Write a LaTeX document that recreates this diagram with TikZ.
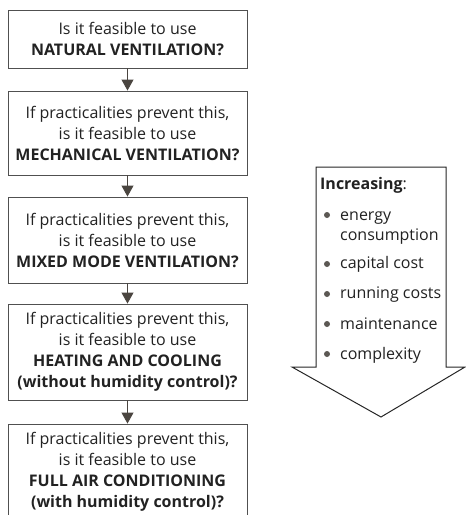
\documentclass[tikz,border=0pt]{standalone}
\usepackage{fontspec}
\setmainfont{Open Sans}
\usetikzlibrary{arrows.meta}
\definecolor{boxline}{HTML}{505050}
\definecolor{arrowc}{HTML}{4A4540}
\definecolor{txt}{HTML}{222222}
\tikzset{
  qbox/.style={draw=boxline, line width=0.9pt, fill=white, minimum width=239pt, align=center, text=txt, font=\fontsize{16}{21}\selectfont, inner sep=0pt},
  flow/.style={draw=arrowc, line width=1pt, -{Triangle[width=12pt,length=11pt]}, fill=arrowc},
  bul/.style={circle, fill=arrowc!90, inner sep=0pt, minimum size=6pt},
  itm/.style={anchor=base west, text=txt, font=\fontsize{16}{20}\selectfont, inner sep=0pt}
}
\begin{document}
\begin{tikzpicture}[x=1pt,y=1pt]
\useasboundingbox (0,0) rectangle (466,-515);
\begin{scope}
\clip (0,0) rectangle (466,-515);
\node[qbox, minimum height=58pt] (b1) at (127.5,-39) {Is it feasible to use\\\textbf{NATURAL VENTILATION?}};
\node[qbox, minimum height=84pt] (b2) at (127.5,-133) {If practicalities prevent this,\\is it feasible to use\\\textbf{MECHANICAL VENTILATION?}};
\node[qbox, minimum height=86pt] (b3) at (127.5,-240) {If practicalities prevent this,\\is it feasible to use\\\textbf{MIXED MODE VENTILATION?}};
\node[qbox, minimum height=96pt] (b4) at (127.5,-352) {If practicalities prevent this,\\is it feasible to use\\\textbf{HEATING AND COOLING}\\\textbf{(without humidity control)?}};
\node[qbox, minimum height=96pt] (b5) at (127.5,-472) {If practicalities prevent this,\\is it feasible to use\\\textbf{FULL AIR CONDITIONING}\\\textbf{(with humidity control)?}};
\end{scope}
\draw[flow] (b1.south) -- (b2.north);
\draw[flow] (b2.south) -- (b3.north);
\draw[flow] (b3.south) -- (b4.north);
\draw[flow] (b4.south) -- (b5.north);
% big arrow
\draw[line width=1pt, draw=black!85, line join=miter, fill=white] (316,-167) -- (446,-167) -- (446,-367) -- (465,-367) -- (381,-417) -- (292,-367) -- (316,-367) -- cycle;
\node[itm] (inc) at (320,-189) {\textbf{Increasing}:};
\node[itm] (i1) at (340,-220) {energy};
\node[itm] (i1b) at (340,-240) {consumption};
\node[itm] (i2) at (340,-268.5) {capital cost};
\node[itm] (i3) at (340,-298.5) {running costs};
\node[itm] (i4) at (340,-329.5) {maintenance};
\node[itm] (i5) at (340,-359.5) {complexity};
\node[bul] (d1) at (327,-215) {};
\node[bul] (d2) at (327,-264) {};
\node[bul] (d3) at (327,-294) {};
\node[bul] (d4) at (327,-324) {};
\node[bul] (d5) at (327,-354) {};
\end{tikzpicture}
\end{document}
